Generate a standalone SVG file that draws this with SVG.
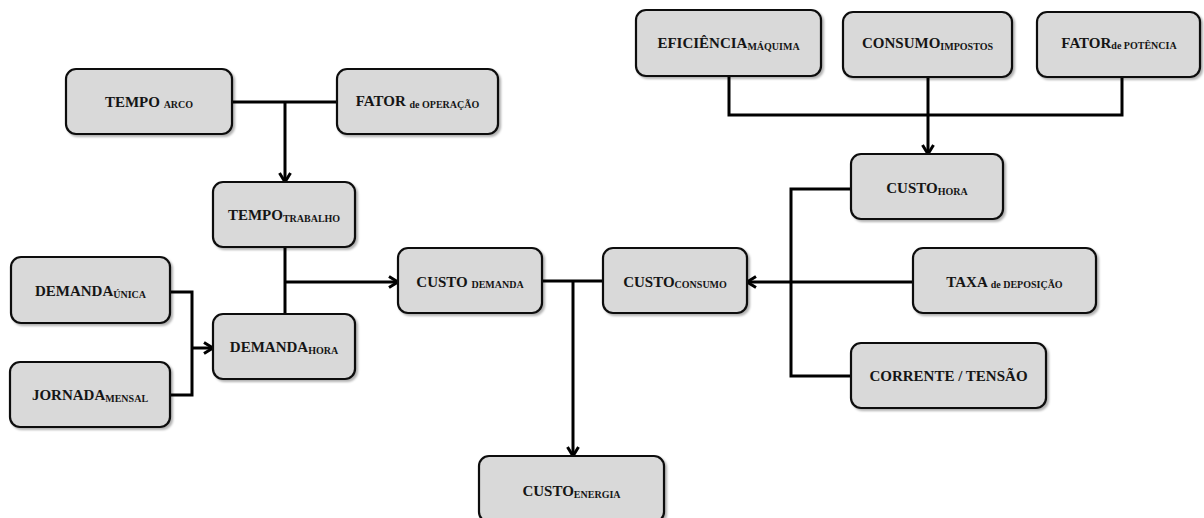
<svg xmlns="http://www.w3.org/2000/svg" width="1204" height="518" viewBox="0 0 1204 518">
<style>
.box{fill:#d9d9d9;stroke:#111;stroke-width:2.2;filter:url(#sh)}
.t{font-family:"Liberation Serif","Times New Roman",serif;font-weight:bold;font-size:15px;fill:#151515;text-anchor:middle}
.s{font-size:10px}
.c{fill:none;stroke:#000;stroke-width:3;stroke-linejoin:miter}
.a{marker-end:url(#ah)}
</style>
<defs>
<filter id="sh" x="-10%" y="-10%" width="130%" height="140%">
<feDropShadow dx="2" dy="2" stdDeviation="1.2" flood-color="#000" flood-opacity="0.3"/>
</filter>
<marker id="ah" viewBox="0 0 14 14" refX="12" refY="7" markerWidth="14" markerHeight="14" markerUnits="userSpaceOnUse" orient="auto">
<path d="M3,1.5 L12,7 L3,12.5" fill="none" stroke="#000" stroke-width="3"/>
</marker>
</defs>
<rect width="1204" height="518" fill="#fff"/>
<g id="connectors">
<path class="c" d="M232,102 H337"/>
<path class="c a" d="M285,102 V182"/>
<path class="c" d="M285,247 V314"/>
<path class="c a" d="M285,282 H398"/>
<path class="c" d="M170,292 H192 V395 H170"/>
<path class="c a" d="M192,348 H213"/>
<path class="c" d="M542,281 H603"/>
<path class="c a" d="M573,281 V456"/>
<path class="c" d="M729,76 V115 H1122 V77"/>
<path class="c a" d="M928,77 V154"/>
<path class="c" d="M851,189 H791 V376 H851"/>
<path class="c a" d="M913,282 H747"/>
</g>
<g id="tempo-arco"><rect class="box" x="66" y="69" width="166" height="65" rx="10"/><text class="t" x="149" y="107">TEMPO <tspan class="s" dy="1">ARCO</tspan></text></g>
<g id="fator-operacao"><rect class="box" x="337" y="69" width="161" height="65" rx="10"/><text class="t" x="417.5" y="106">FATOR <tspan class="s" dy="2">de OPERAÇÃO</tspan></text></g>
<g id="tempo-trabalho"><rect class="box" x="213" y="182" width="142" height="65" rx="10"/><text class="t" x="284" y="220">TEMPO<tspan class="s" dy="2">TRABALHO</tspan></text></g>
<g id="demanda-unica"><rect class="box" x="11" y="257" width="159" height="66" rx="10"/><text class="t" x="90.5" y="296">DEMANDA<tspan class="s" dy="2">ÚNICA</tspan></text></g>
<g id="jornada-mensal"><rect class="box" x="10" y="362" width="160" height="65" rx="10"/><text class="t" x="90" y="400">JORNADA<tspan class="s" dy="2">MENSAL</tspan></text></g>
<g id="demanda-hora"><rect class="box" x="213" y="314" width="142" height="65" rx="10"/><text class="t" x="284" y="352">DEMANDA<tspan class="s" dy="2">HORA</tspan></text></g>
<g id="custo-demanda"><rect class="box" x="398" y="248" width="144" height="65" rx="10"/><text class="t" x="470" y="287">CUSTO <tspan class="s" dy="1">DEMANDA</tspan></text></g>
<g id="custo-consumo"><rect class="box" x="603" y="248" width="144" height="65" rx="10"/><text class="t" x="675" y="287">CUSTO<tspan class="s" dy="1">CONSUMO</tspan></text></g>
<g id="custo-energia"><rect class="box" x="479" y="456" width="185" height="66" rx="10"/><text class="t" x="571.5" y="496">CUSTO<tspan class="s" dy="2">ENERGIA</tspan></text></g>
<g id="eficiencia-maquina"><rect class="box" x="636" y="10" width="185" height="66" rx="10"/><text class="t" x="728.5" y="48">EFICIÊNCIA<tspan class="s" dy="2">MÁQUIMA</tspan></text></g>
<g id="consumo-impostos"><rect class="box" x="843" y="12" width="169" height="65" rx="10"/><text class="t" x="927.5" y="48">CONSUMO<tspan class="s" dy="2">IMPOSTOS</tspan></text></g>
<g id="fator-potencia"><rect class="box" x="1037" y="12" width="163" height="65" rx="10"/><text class="t" x="1119" y="48">FATOR<tspan class="s" dy="1">de POTÊNCIA</tspan></text></g>
<g id="custo-hora"><rect class="box" x="851" y="154" width="152" height="65" rx="10"/><text class="t" x="927" y="193">CUSTO<tspan class="s" dy="2">HORA</tspan></text></g>
<g id="taxa-deposicao"><rect class="box" x="913" y="248" width="183" height="65" rx="10"/><text class="t" x="1004.5" y="287">TAXA <tspan class="s" dy="1">de DEPOSIÇÃO</tspan></text></g>
<g id="corrente-tensao"><rect class="box" x="851" y="343" width="195" height="65" rx="10"/><text class="t" x="948.5" y="381">CORRENTE / TENSÃO</text></g>
</svg>
